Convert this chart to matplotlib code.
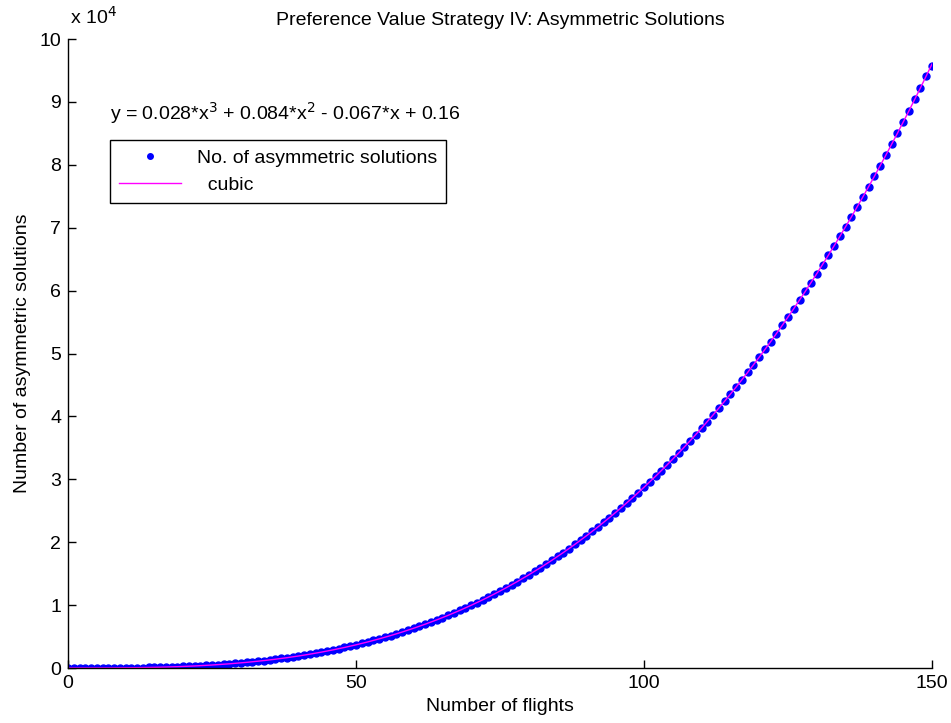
import numpy as np
import matplotlib.pyplot as plt
from matplotlib.ticker import FuncFormatter

plt.rcParams['font.family'] = ['Liberation Sans Narrow', 'Liberation Sans', 'DejaVu Sans']

# number of flights
flights = list(range(0, 151))

# number of asymmetric solutions
solutions = [
    0, 0, 0, 1, 3, 5, 9, 13, 19, 27,
    36, 47, 60, 75, 92, 112, 135, 160, 189, 220,
    255, 294, 336, 382, 432, 487, 545, 609, 676, 749,
    827, 910, 998, 1092, 1191, 1297, 1408, 1526, 1650, 1780,
    1917, 2061, 2212, 2371, 2536, 2710, 2891, 3079, 3276, 3481,
    3694, 3916, 4147, 4386, 4635, 4892, 5159, 5436, 5722, 6017,
    6325, 6641, 6968, 7306, 7654, 8013, 8383, 8764, 9157, 9561,
    9977, 10404, 10844, 11296, 11761, 12238, 12728, 13230, 13746, 14275,
    14817, 15373, 15943, 16526, 17124, 17735, 18362, 19002, 19658, 20328,
    21014, 21714, 22430, 23162, 23909, 24673, 25452, 26248, 27059, 27888,
    28733, 29596, 30475, 31371, 32285, 33217, 34166, 35133, 36119, 37122,
    38144, 39185, 40244, 41322, 42419, 43536, 44672, 45827, 47002, 48197,
    49413, 50648, 51904, 53181, 54478, 55796, 57136, 58496, 59878, 61282,
    62707, 64154, 65624, 67116, 68630, 70166, 71726, 73308, 74914, 76543,
    78195, 79871, 81570, 83294, 85041, 86813, 88609, 90430, 92276, 94147,
    95700,
]

fit_text = 'y = 0.028*x$^3$ + 0.084*x$^2$ - 0.067*x + 0.16'

x = np.array(flights, dtype=float)
y = np.array(solutions, dtype=float)

# cubic fit, like MATLAB basic fitting
coef = np.polyfit(x, y, 3)
y_fit = np.polyval(coef, x)

fig = plt.figure(figsize=(9.51, 7.23), dpi=100)
ax = fig.add_axes([0.0715, 0.076, 0.9085, 0.870])

ax.plot(x, y, linestyle='none', marker='.', markersize=10, color='#0000ff',
        label='No. of asymmetric solutions')
ax.plot(x, y_fit, color='#ff00ff', linewidth=1.0, label='  cubic')

ax.set_xlim(0, 150)
ax.set_ylim(0, 100000)
ax.set_xticks([0, 50, 100, 150])
ax.set_yticks(np.arange(0, 100001, 10000))
ax.yaxis.set_major_formatter(FuncFormatter(lambda v, p: '%d' % round(v / 10000)))

for s in ['top', 'right']:
    ax.spines[s].set_visible(False)
for s in ['left', 'bottom']:
    ax.spines[s].set_linewidth(1.0)
ax.tick_params(direction='in', length=6, width=1, labelsize=14, pad=5)

ax.set_title('Preference Value Strategy IV: Asymmetric Solutions', fontsize=14, pad=10)
ax.set_xlabel('Number of flights', fontsize=14, labelpad=4)
ax.set_ylabel('Number of asymmetric solutions', fontsize=14, labelpad=6)

fig.text(0.074, 0.962, 'x 10$^4$', fontsize=14, ha='left', va='bottom')
ax.text(0.049, 0.882, fit_text, transform=ax.transAxes, fontsize=14, va='center')

leg = ax.legend(loc='upper left', bbox_to_anchor=(0.0486, 0.839), fontsize=14,
                frameon=True, fancybox=False, edgecolor='black', framealpha=1,
                borderaxespad=0, borderpad=0.45, handlelength=3.2,
                labelspacing=0.5, markerscale=0.8)
leg.get_frame().set_linewidth(1.0)

fig.savefig('out.png', dpi=100)
